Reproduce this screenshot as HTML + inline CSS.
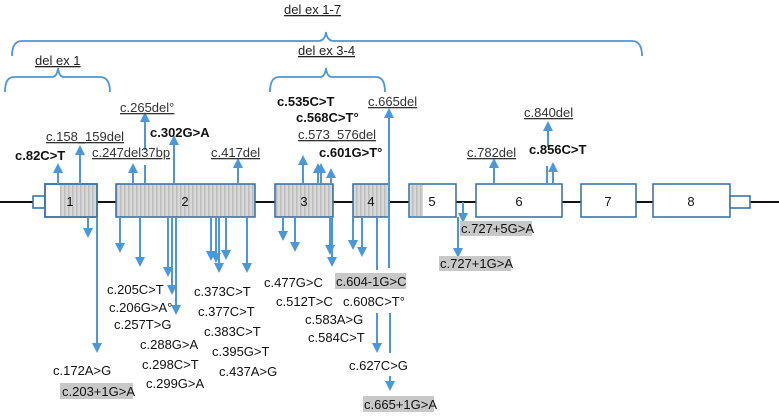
<!DOCTYPE html>
<html><head><style>
html,body{margin:0;padding:0;background:#fff;}
svg{display:block;}
text{font-family:"Liberation Sans",Arial,sans-serif;font-size:13px;fill:#111;}
.b{font-weight:bold;}
.u{text-decoration:underline;fill:#333;}
</style></head><body>
<svg width="779" height="417" viewBox="0 0 779 417" xmlns="http://www.w3.org/2000/svg">
<defs>
<pattern id="h" width="4" height="10" patternUnits="userSpaceOnUse"><rect width="4" height="10" fill="#d8d8d8"/><rect width="1.5" height="10" fill="#bdbdbd"/></pattern>
<marker id="a" viewBox="0 0 10 10" refX="5" refY="5" markerWidth="5" markerHeight="5" orient="auto"><path d="M0,0 L10,5 L0,10 z" fill="#4a98da"/></marker>
</defs>
<g fill="none" stroke="#4a98da" stroke-width="1.8">
<path d="M12,56 Q12,41 22,41 L318,41 Q325,41 326,32 Q327,41 334,41 L632,41 Q642,41 642,56"/>
<path d="M5,92 Q5,77 14,77 L52,77 Q57,77 58,68 Q59,77 64,77 L100,77 Q110,77 110,92"/>
<path d="M270,92 Q270,77 279,77 L320,77 Q325,77 326,68 Q327,77 332,77 L376,77 Q385,77 385,92"/>
</g>
<text x="284" y="14" class="u" style="fill:#222">del ex 1-7</text>
<text x="35" y="65" class="u" style="fill:#222">del ex 1</text>
<text x="298" y="55" class="u" style="fill:#222">del ex 3-4</text>
<line x1="0" y1="202" x2="779" y2="202" stroke="#111" stroke-width="2"/>
<g stroke="#2e6da4" stroke-width="1.5">
<rect x="33" y="196" width="12" height="12" fill="#fff"/>
<rect x="45" y="184" width="52" height="33" fill="#fff"/>
<rect x="60" y="185" width="36" height="31" fill="url(#h)" stroke="none"/>
<rect x="45" y="184" width="52" height="33" fill="none"/>
<rect x="116" y="184" width="139" height="33" fill="url(#h)"/>
<rect x="275" y="184" width="58" height="33" fill="url(#h)"/>
<rect x="353" y="184" width="36" height="33" fill="url(#h)"/>
<rect x="409" y="184" width="47" height="33" fill="#fff"/>
<rect x="410" y="185" width="13" height="31" fill="url(#h)" stroke="none"/>
<rect x="476" y="184" width="86" height="33" fill="#fff"/>
<rect x="581" y="184" width="55" height="33" fill="#fff"/>
<rect x="653" y="184" width="77" height="33" fill="#fff"/>
<rect x="730" y="196" width="20" height="12" fill="#fff"/>
</g>
<g>
<text x="70" y="206" style="text-anchor:middle">1</text>
<text x="185" y="206" style="text-anchor:middle">2</text>
<text x="304" y="206" style="text-anchor:middle">3</text>
<text x="371" y="206" style="text-anchor:middle">4</text>
<text x="432" y="206" style="text-anchor:middle">5</text>
<text x="519" y="206" style="text-anchor:middle">6</text>
<text x="608" y="206" style="text-anchor:middle">7</text>
<text x="691" y="206" style="text-anchor:middle">8</text>
</g>
<g stroke="#4a98da" stroke-width="2" marker-end="url(#a)" fill="none">
<line x1="58" y1="184" x2="58" y2="168"/>
<line x1="80" y1="184" x2="80" y2="150"/>
<line x1="133" y1="184" x2="133" y2="168"/>
<line x1="145" y1="150" x2="145" y2="117"/>
<line x1="174" y1="184" x2="174" y2="140"/>
<line x1="238" y1="184" x2="238" y2="163"/>
<line x1="303" y1="184" x2="303" y2="160"/>
<line x1="318" y1="184" x2="318" y2="168"/>
<line x1="321" y1="184" x2="321" y2="168"/>
<line x1="331" y1="184" x2="331" y2="173"/>
<line x1="389" y1="268" x2="389" y2="113"/>
<line x1="494" y1="184" x2="494" y2="163"/>
<line x1="548" y1="147" x2="548" y2="126"/>
<line x1="553" y1="184" x2="553" y2="167"/>
<line x1="88" y1="217" x2="88" y2="233"/>
<line x1="97" y1="217" x2="97" y2="348"/>
<line x1="120" y1="217" x2="120" y2="248"/>
<line x1="140" y1="217" x2="140" y2="262"/>
<line x1="168" y1="217" x2="168" y2="272"/>
<line x1="172" y1="217" x2="172" y2="290"/>
<line x1="176" y1="217" x2="176" y2="310"/>
<line x1="211" y1="217" x2="211" y2="256"/>
<line x1="216" y1="217" x2="216" y2="258"/>
<line x1="219" y1="217" x2="219" y2="268"/>
<line x1="226" y1="217" x2="226" y2="255"/>
<line x1="247" y1="217" x2="247" y2="268"/>
<line x1="283" y1="217" x2="283" y2="236"/>
<line x1="295" y1="217" x2="295" y2="247"/>
<line x1="330" y1="217" x2="330" y2="250"/>
<line x1="332" y1="217" x2="332" y2="262"/>
<line x1="353" y1="217" x2="353" y2="245"/>
<line x1="362" y1="217" x2="362" y2="252"/>
<line x1="377" y1="313" x2="377" y2="348"/>
<line x1="390" y1="376" x2="390" y2="386"/>
<line x1="463" y1="202" x2="463" y2="218"/>
<line x1="458" y1="217" x2="458" y2="253"/>
</g>
<g stroke="#4a98da" stroke-width="2">
<line x1="145" y1="184" x2="145" y2="165"/>
<line x1="377" y1="217" x2="377" y2="270"/>
<line x1="390" y1="313" x2="390" y2="353"/>
<line x1="547" y1="184" x2="547" y2="166"/>
</g>
<text x="15" y="160" class="b">c.82C&gt;T</text>
<text x="46" y="141" class="u">c.158_159del</text>
<text x="92" y="157" class="u">c.247del37bp</text>
<text x="120" y="112" class="u">c.265del°</text>
<text x="150" y="137" class="b">c.302G&gt;A</text>
<text x="211" y="157" class="u">c.417del</text>
<text x="277" y="106" class="b">c.535C&gt;T</text>
<text x="296" y="122" class="b">c.568C&gt;T°</text>
<text x="298" y="139" class="u">c.573_576del</text>
<text x="319" y="157" class="b">c.601G&gt;T°</text>
<text x="368" y="106" class="u">c.665del</text>
<text x="467" y="157" class="u">c.782del</text>
<text x="524" y="117" class="u">c.840del</text>
<text x="529" y="154" class="b">c.856C&gt;T</text>
<g fill="#c8c8c8">
<rect x="60" y="383" width="73" height="16"/>
<rect x="335" y="273" width="71" height="16"/>
<rect x="363" y="396" width="71" height="16"/>
<rect x="460" y="221" width="72" height="15"/>
<rect x="439" y="256" width="72" height="15"/>
</g>
<text x="53" y="375">c.172A&gt;G</text>
<text x="62" y="396">c.203+1G&gt;A</text>
<text x="107" y="294">c.205C&gt;T</text>
<text x="109" y="312">c.206G&gt;A°</text>
<text x="114" y="329">c.257T&gt;G</text>
<text x="140" y="349">c.288G&gt;A</text>
<text x="142" y="369">c.298C&gt;T</text>
<text x="146" y="388">c.299G&gt;A</text>
<text x="194" y="296">c.373C&gt;T</text>
<text x="198" y="316">c.377C&gt;T</text>
<text x="204" y="336">c.383C&gt;T</text>
<text x="212" y="356">c.395G&gt;T</text>
<text x="219" y="376">c.437A&gt;G</text>
<text x="264" y="287">c.477G&gt;C</text>
<text x="276" y="306">c.512T&gt;C</text>
<text x="305" y="324">c.583A&gt;G</text>
<text x="308" y="342">c.584C&gt;T</text>
<text x="336" y="286">c.604-1G&gt;C</text>
<text x="343" y="306">c.608C&gt;T°</text>
<text x="349" y="370">c.627C&gt;G</text>
<text x="364" y="409">c.665+1G&gt;A</text>
<text x="461" y="233">c.727+5G&gt;A</text>
<text x="440" y="268">c.727+1G&gt;A</text>
</svg>
</body></html>
